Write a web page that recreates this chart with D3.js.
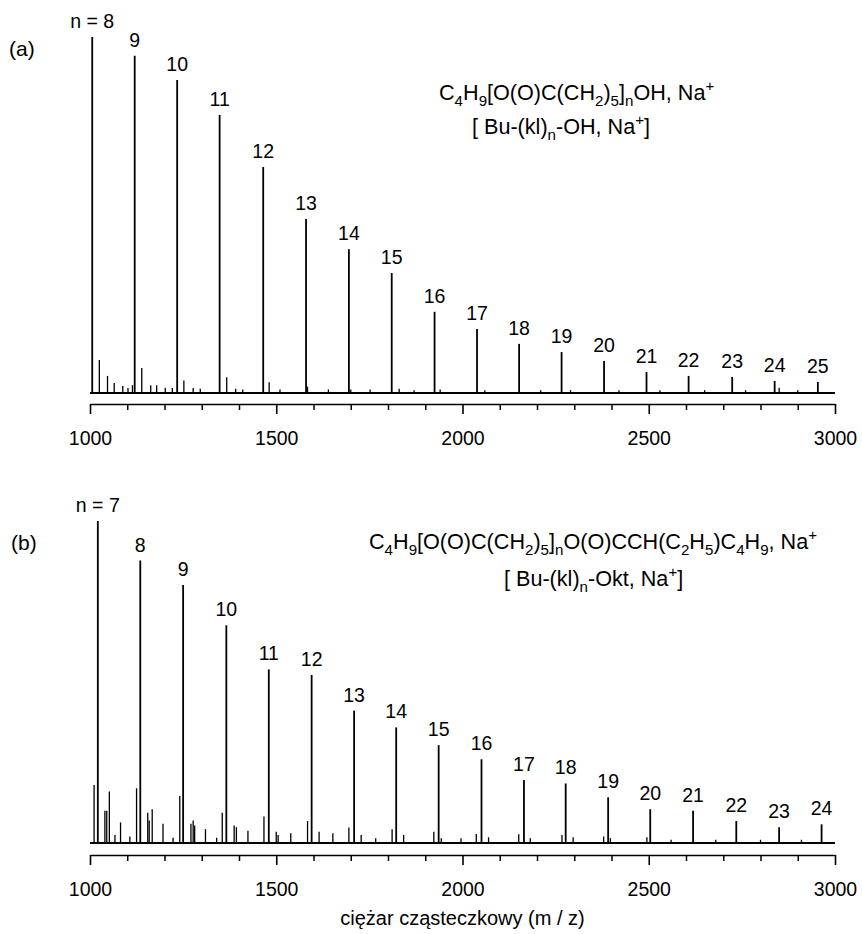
<!DOCTYPE html>
<html><head><meta charset="utf-8">
<script src="https://cdn.jsdelivr.net/npm/d3@7"></script>
<style>body{margin:0;background:#fff}svg{display:block}</style>
</head><body><svg id="c" width="862" height="934"></svg>
<script>
// ---------- data ----------
const xDomain = [1000, 3000];
const xTickMajor = [1000, 1500, 2000, 2500, 3000];
const xTickMinor = [1100, 1200, 1300, 1400, 1600, 1700, 1800, 1900, 2100, 2200, 2300, 2400, 2600, 2700, 2800, 2900];
const xTitle = "ciężar cząsteczkowy (m / z)";

// panel (a): main series
const nA = [8, 9, 10, 11, 12, 13, 14, 15, 16, 17, 18, 19, 20, 21, 22, 23, 24, 25];
const mzA = [1006, 1120, 1234, 1348, 1465, 1580, 1695, 1810, 1925, 2039, 2152, 2266, 2380, 2494, 2607, 2724, 2838, 2954];
const intA = [100, 94.7, 87.9, 78.1, 63.5, 48.9, 40.4, 33.7, 22.8, 18.0, 13.8, 11.5, 9.0, 5.9, 4.8, 4.5, 3.4, 3.1];
// panel (a): minor peaks
const minorMzA = [1025, 1047, 1065, 1088, 1102, 1114, 1139, 1163, 1179, 1202, 1221, 1252, 1277, 1296, 1367, 1391, 1410, 1481, 1510, 1584, 1640, 1700, 1752, 1830, 1870, 1940, 2060, 2210, 2290, 2420, 2530, 2650, 2760, 2850, 2900];
const minorIntA = [9.3, 4.8, 2.8, 2.0, 1.4, 2.2, 7.0, 2.2, 2.2, 1.5, 1.4, 3.5, 1.4, 1.2, 4.4, 1.2, 1.0, 3.0, 1.0, 1.8, 1.0, 1.0, 1.0, 1.2, 0.8, 1.0, 0.8, 0.8, 0.8, 0.8, 0.8, 0.8, 0.8, 1.5, 0.8];
const labelA = "(a)";
const formulaA = ["C_4H_9[O(O)C(CH_2)_5]_nOH, Na^+", "[ Bu-(kl)_n-OH, Na^+]"];

// panel (b): main series
const nB = [7, 8, 9, 10, 11, 12, 13, 14, 15, 16, 17, 18, 19, 20, 21, 22, 23, 24];
const mzB = [1021, 1135, 1250, 1366, 1480, 1595, 1709, 1822, 1936, 2051, 2165, 2277, 2391, 2504, 2619, 2735, 2850, 2964];
const intB = [100, 87.7, 80.1, 67.6, 53.9, 52.2, 41.1, 35.9, 30.4, 26.0, 19.6, 18.5, 14.2, 10.5, 10.0, 6.8, 4.9, 5.8];
// panel (b): minor peaks
const minorMzB = [1011, 1040, 1045, 1052, 1067, 1082, 1107, 1125, 1155, 1159, 1167, 1196, 1223, 1241, 1271, 1277, 1281, 1310, 1340, 1355, 1387, 1393, 1424, 1467, 1500, 1505, 1539, 1584, 1615, 1652, 1695, 1728, 1767, 1811, 1842, 1923, 1943, 1996, 2037, 2070, 2151, 2182, 2267, 2297, 2379, 2397, 2495, 2560, 2680, 2800, 2910];
const minorIntB = [18, 10, 10, 16, 2.5, 6.4, 2.0, 17, 9.4, 7.0, 10.5, 6.0, 1.6, 14.6, 6.0, 7.0, 5.4, 4.3, 1.6, 9.4, 5.4, 4.9, 3.8, 8.2, 3.5, 2.5, 3.0, 6.8, 3.5, 3.0, 4.8, 2.5, 1.5, 4.3, 2.5, 3.5, 1.5, 1.5, 2.8, 1.8, 2.7, 1.5, 2.5, 1.8, 2.0, 1.5, 1.8, 1.0, 1.0, 1.0, 1.0];
const labelB = "(b)";
const formulaB = ["C_4H_9[O(O)C(CH_2)_5]_nO(O)CCH(C_2H_5)C_4H_9, Na^+", "[ Bu-(kl)_n-Okt, Na^+]"];

// ---------- drawing ----------
const FONT = "'Liberation Sans', Arial, Helvetica, sans-serif";
const svg = d3.select("#c");
svg.append("rect").attr("width", 862).attr("height", 934).attr("fill", "#fff");

const x = d3.scaleLinear().domain(xDomain).range([90, 835]);

// parse "X_s" (subscript) and "X^s" (superscript) notation into tspans
function richText(g, str, px, py, size) {
  const t = g.append("text").attr("x", px).attr("y", py)
    .attr("font-family", FONT).attr("font-size", size).attr("fill", "#000");
  const segs = [];
  let buf = "", i = 0;
  while (i < str.length) {
    const ch = str[i];
    if (ch === "_" || ch === "^") {
      if (buf) { segs.push({ t: buf, k: "n" }); buf = ""; }
      segs.push({ t: str[i + 1], k: ch === "_" ? "sub" : "sup" });
      i += 2;
    } else { buf += ch; i++; }
  }
  if (buf) segs.push({ t: buf, k: "n" });
  let shift = 0;
  segs.forEach(s => {
    const target = s.k === "sub" ? size * 0.28 : s.k === "sup" ? -size * 0.42 : 0;
    const ts = t.append("tspan").text(s.t).attr("dy", target - shift);
    if (s.k !== "n") ts.attr("font-size", size * 0.7);
    shift = target;
  });
  return t;
}

function panel(cfg) {
  const g = svg.append("g");
  const y = d3.scaleLinear().domain([0, 100]).range([cfg.base, cfg.top]);

  // axis
  const axMaj = d3.axisBottom(x).tickValues(xTickMajor).tickSize(10).tickSizeOuter(0).tickFormat(d3.format("d"));
  const ga = g.append("g").attr("transform", `translate(0,${cfg.axisY})`).call(axMaj);
  ga.select(".domain").attr("stroke", "#000").attr("stroke-width", 1.6);
  ga.selectAll(".tick line").attr("stroke", "#000").attr("stroke-width", 1.6);
  ga.selectAll(".tick text").attr("font-family", FONT).attr("font-size", 19.5)
    .attr("fill", "#000").attr("y", 41).attr("dy", 0);
  const axMin = d3.axisBottom(x).tickValues(xTickMinor).tickSize(6).tickSizeOuter(0).tickFormat("");
  const gm = g.append("g").attr("transform", `translate(0,${cfg.axisY})`).call(axMin);
  gm.select(".domain").remove();
  gm.selectAll(".tick line").attr("stroke", "#000").attr("stroke-width", 1.5);
  gm.selectAll(".tick text").remove();

  // baseline of spectrum
  g.append("line").attr("x1", x(xDomain[0])).attr("x2", x(xDomain[1]))
    .attr("y1", y(0)).attr("y2", y(0)).attr("stroke", "#000").attr("stroke-width", 1.8);

  // minor peaks
  const minor = cfg.minorMz.map((m, i) => ({ mz: m, v: cfg.minorInt[i] }));
  g.selectAll(".mn").data(minor).join("line")
    .attr("x1", d => x(d.mz)).attr("x2", d => x(d.mz))
    .attr("y1", y(0)).attr("y2", d => y(d.v))
    .attr("stroke", "#000").attr("stroke-width", 1.3);

  // main peaks
  const main = cfg.mz.map((m, i) => ({ mz: m, v: cfg.int[i], n: cfg.n[i] }));
  g.selectAll(".mp").data(main).join("line")
    .attr("x1", d => x(d.mz)).attr("x2", d => x(d.mz))
    .attr("y1", y(0)).attr("y2", d => y(d.v))
    .attr("stroke", "#000").attr("stroke-width", 1.8);
  g.selectAll(".lb").data(main).join("text")
    .attr("x", d => x(d.mz)).attr("y", d => y(d.v) - 9)
    .attr("text-anchor", "middle").attr("font-family", FONT).attr("font-size", 19.5)
    .attr("fill", "#000")
    .text((d, i) => i === 0 ? `n = ${d.n}` : d.n);

  // panel label
  g.append("text").attr("x", cfg.labX).attr("y", cfg.labY)
    .attr("font-family", FONT).attr("font-size", 21).attr("fill", "#000").text(cfg.label);

  // formula
  richText(g, cfg.formula[0], cfg.f1x, cfg.f1y, 21.6);
  richText(g, cfg.formula[1], cfg.f2x, cfg.f2y, 21.6);
}

panel({ n: nA, mz: mzA, int: intA, minorMz: minorMzA, minorInt: minorIntA,
  top: 37, base: 393, axisY: 404, label: labelA, labX: 9, labY: 56,
  formula: formulaA, f1x: 439, f1y: 100, f2x: 472, f2y: 134 });
panel({ n: nB, mz: mzB, int: intB, minorMz: minorMzB, minorInt: minorIntB,
  top: 521, base: 843, axisY: 855, label: labelB, labX: 11, labY: 550,
  formula: formulaB, f1x: 369, f1y: 549, f2x: 504, f2y: 586 });

svg.append("text").attr("x", x(2000)).attr("y", 925).attr("text-anchor", "middle")
  .attr("font-family", FONT).attr("font-size", 20).attr("fill", "#000").text(xTitle);
</script>
</body></html>
